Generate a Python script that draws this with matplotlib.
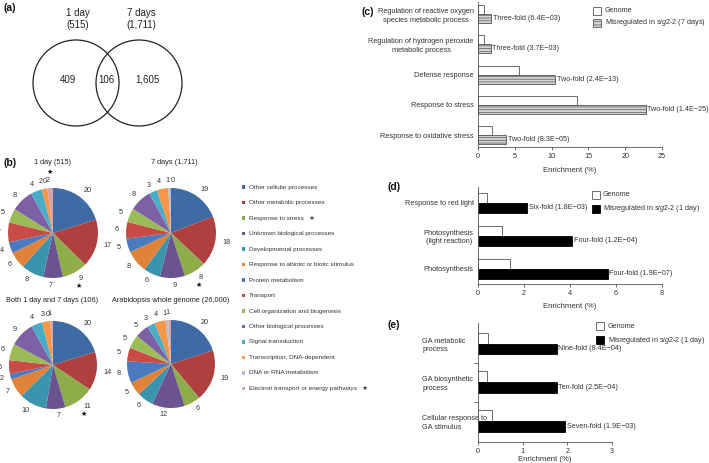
import numpy as np
import matplotlib
matplotlib.use("Agg")
import matplotlib.pyplot as plt
from matplotlib.patches import Circle, Rectangle

plt.rcParams['font.family'] = ['Liberation Sans', 'DejaVu Sans']
plt.rcParams['mathtext.fontset'] = 'custom'
plt.rcParams['mathtext.it'] = 'Liberation Sans:italic'
plt.rcParams['mathtext.rm'] = 'Liberation Sans'
plt.rcParams['hatch.linewidth'] = 0.5

# ---------------- data ----------------
venn_titles = ["1 day\n(515)", "7 days\n(1,711)"]
venn_counts = ["409", "106", "1,605"]

go_categories = ["Other cellular processes", "Other metabolic processes", "Response to stress",
                 "Unknown biological processes", "Developmental processes",
                 "Response to abiotic or biotic stimulus", "Protein metabolism", "Transport",
                 "Cell organization and biogenesis", "Other biological processes",
                 "Signal transduction", "Transcription, DNA-dependent", "DNA or RNA metabolism",
                 "Electron transport or energy pathways"]
starred_categories = [2, 13]
pie_colors = ["#3F6BA4", "#B0403F", "#8EAC4A", "#6B5291", "#3A94AD", "#E08238",
              "#4A7BC0", "#C84B48", "#9BBB59", "#7E60A5", "#4BACC6", "#F79646",
              "#B6BDD8", "#D9A2A4"]
pie_titles = ["1 day (515)", "7 days (1,711)", "Both 1 day and 7 days (106)",
              "Arabidopsis whole genome (26,000)"]
pie_day1 = [20, 17, 9, 7, 8, 6, 4, 7, 5, 8, 4, 2, 0, 2]
pie_day7 = [19, 18, 8, 9, 6, 8, 5, 6, 5, 8, 3, 4, 1, 0]
pie_both = [20, 14, 11, 7, 10, 7, 2, 5, 6, 9, 4, 3, 0, 1]
pie_genome = [20, 19, 6, 12, 6, 5, 8, 5, 5, 5, 3, 4, 1, 1]
pie_stars = [[(2, 'below'), (13, 'above')], [(2, 'below')], [(2, 'below')], []]

c_cats = ["Regulation of reactive oxygen\nspecies metabolic process",
          "Regulation of hydrogen peroxide\nmetabolic process",
          "Defense response", "Response to stress", "Response to oxidative stress"]
c_genome = [0.75, 0.75, 5.6, 13.4, 1.9]
c_sig = [1.8, 1.7, 10.45, 22.8, 3.8]
c_notes = ["Three-fold (6.4E\u221203)", "Three-fold (3.7E\u221203)", "Two-fold (2.4E\u221213)",
           "Two-fold (1.4E\u221225)", "Two-fold (8.3E\u221205)"]
c_ticks = [0, 5, 10, 15, 20, 25]

d_cats = ["Response to red light", "Photosynthesis\n(light reaction)", "Photosynthesis"]
d_genome = [0.38, 1.06, 1.41]
d_sig = [2.15, 4.09, 5.64]
d_notes = ["Six-fold (1.8E\u221203)", "Four-fold (1.2E\u221204)", "Four-fold (1.9E\u221207)"]
d_ticks = [0, 2, 4, 6, 8]

e_cats = ["GA metabolic\nprocess", "GA biosynthetic\nprocess", "Cellular response to\nGA stimulus"]
e_genome = [0.22, 0.2, 0.32]
e_sig = [1.76, 1.76, 1.95]
e_notes = ["Nine-fold (8.4E\u221204)", "Ten-fold (2.5E\u221204)", "Seven-fold (1.9E\u221203)"]
e_ticks = [0, 1, 2, 3]

# ---------------- figure ----------------
W, H = 709, 463
fig = plt.figure(figsize=(W / 100, H / 100), dpi=100)
fig.patch.set_facecolor('white')


def px_axes(x0, y0, x1, y1):
    return fig.add_axes([x0 / W, 1 - y1 / H, (x1 - x0) / W, (y1 - y0) / H])


ov = fig.add_axes([0, 0, 1, 1])
ov.set_xlim(0, W)
ov.set_ylim(H, 0)
ov.axis('off')
ov.set_zorder(10)
ov.patch.set_visible(False)

txt = '#222222'
# panel labels
for lab, (x, y) in zip(["(a)", "(b)", "(c)", "(d)", "(e)"],
                       [(3, 8), (3, 163), (361, 12), (387, 187), (387, 325)]):
    ov.text(x, y, lab, fontsize=7.5, fontweight='bold', va='center', ha='left', color='#111')

# ---------------- (a) Venn ----------------
ov.add_patch(Circle((76, 83), 43, fill=False, lw=0.9, ec='#222'))
ov.add_patch(Circle((139, 83), 43, fill=False, lw=0.9, ec='#222'))
ov.text(78, 19, venn_titles[0], ha='center', va='center', fontsize=7, color=txt, linespacing=1.2)
ov.text(141, 19, venn_titles[1], ha='center', va='center', fontsize=7, color=txt, linespacing=1.2)
ov.text(68, 80, venn_counts[0], ha='center', va='center', fontsize=7, color=txt)
ov.text(106, 80, venn_counts[1], ha='center', va='center', fontsize=7, color=txt)
ov.text(147, 80, venn_counts[2], ha='center', va='center', fontsize=7, color=txt)

# ---------------- (b) pies ----------------
pie_data = [pie_day1, pie_day7, pie_both, pie_genome]
pie_centers = [(53, 233), (171, 233), (53, 365), (171, 364)]
pie_radius = [45, 45, 44, 44]
title_pos = [(53, 163), (174, 163), (52, 300), (171, 300)]
for vals, (cx, cy), r, title, (tx, ty), stars in zip(pie_data, pie_centers, pie_radius,
                                                    pie_titles, title_pos, pie_stars):
    s = 2.5 * r
    ax = px_axes(cx - s / 2, cy - s / 2, cx + s / 2, cy + s / 2)
    wedges, texts = ax.pie(vals, colors=pie_colors, startangle=90, counterclock=False,
                           labels=[str(v) for v in vals], labeldistance=1.16,
                           textprops=dict(fontsize=5.2, color='#333'),
                           wedgeprops=dict(linewidth=0))
    ax.set_xlim(-1.25, 1.25)
    ax.set_ylim(-1.25, 1.25)
    for k, where in stars:
        px, py = texts[k].get_position()
        dy = -6 if where == 'below' else 6
        ax.annotate('\u2605', xy=(px, py), xytext=(0, dy), textcoords='offset points',
                    ha='center', va='center', fontsize=5, color='#111')
    ov.text(tx, ty, title, ha='center', va='center', fontsize=5.3, color=txt)

# legend for (b)
for i, (name, col) in enumerate(zip(go_categories, pie_colors)):
    yy = 187 + 15.5 * i
    ov.add_patch(Rectangle((241.5, yy - 1.8), 3.6, 3.6, color=col, lw=0))
    label = name + ("   \u2605" if i in starred_categories else "")
    ov.text(249, yy, label, ha='left', va='center', fontsize=4.6, color='#333')


# ---------------- bar panels ----------------
def bar_panel(box, cats, genome, sig, notes, ticks, ylim, h, sig_style, left_labels=False,
              label_pad=3, minor=False, xlabelpad=5):
    ax = px_axes(*box)
    ax.patch.set_visible(False)
    y = np.arange(len(cats))
    ax.barh(y - h / 2, genome, height=h, color='white', edgecolor='#555', lw=0.6)
    ax.barh(y + h / 2, sig, height=h, **sig_style)
    for yi, v, note in zip(y, sig, notes):
        ax.annotate(note, xy=(v, yi + h / 2), xytext=(1.2, 0), textcoords='offset points',
                    va='center', ha='left', fontsize=5.2, color='#333')
    ax.set_xlim(ticks[0], ticks[-1])
    ax.set_ylim(*ylim)
    ax.set_xticks(ticks)
    ax.set_xticklabels([str(t) for t in ticks], fontsize=5.2, color='#333')
    ax.set_yticks(y)
    ax.set_yticklabels(cats, fontsize=5.3, color='#333')
    ax.tick_params(axis='x', length=2.5, width=0.6, color='#555', pad=1.5)
    ax.tick_params(axis='y', which='major', length=0, pad=label_pad)
    if minor:
        ax.set_yticks(y[:-1] + 0.5, minor=True)
        ax.tick_params(axis='y', which='minor', length=3, width=0.6, color='#555')
    for lab in ax.get_yticklabels():
        lab.set_linespacing(1.3)
        if left_labels:
            lab.set_ha('left')
            lab.set_multialignment('left')
        else:
            lab.set_multialignment('center')
    for sp in ['top', 'right']:
        ax.spines[sp].set_visible(False)
    for sp in ['left', 'bottom']:
        ax.spines[sp].set_color('#555')
        ax.spines[sp].set_linewidth(0.6)
    ax.set_xlabel("Enrichment (%)", fontsize=5.6, color='#333', labelpad=xlabelpad)
    return ax


hatch_style = dict(color='#d4d4d4', edgecolor='#555', hatch='------', lw=0.6)
black_style = dict(color='black', edgecolor='black', lw=0.6)

bar_panel((478, 2, 662, 147), c_cats, c_genome, c_sig, c_notes, c_ticks,
          (4.39, -0.4), 0.3, hatch_style)
bar_panel((478, 187, 662, 284), d_cats, d_genome, d_sig, d_notes, d_ticks,
          (2.46, -0.48), 0.3, black_style)
bar_panel((478, 323, 612, 442), e_cats, e_genome, e_sig, e_notes, e_ticks,
          (2.54, -0.53), 0.28, black_style, left_labels=True, label_pad=40, minor=True,
          xlabelpad=1.0)

# legends for bar panels
def bar_legend(x, y1, y2, tx, second_label, style):
    ov.add_patch(Rectangle((x, y1 - 4), 8, 8, facecolor='white', edgecolor='#555', lw=0.6))
    ov.add_patch(Rectangle((x, y2 - 4), 8, 8, **style))
    ov.text(tx, y1, "Genome", fontsize=5.2, va='center', ha='left', color='#333')
    ov.text(tx, y2, second_label, fontsize=5.2, va='center', ha='left', color='#333')


bar_legend(593, 11, 23, 605, "Misregulated in $\\mathit{sig2}$-$\\mathit{2}$ (7 days)",
           dict(facecolor='#d4d4d4', edgecolor='#555', hatch='-----', lw=0.6))
bar_legend(592, 195, 209, 603, "Misregulated in $\\mathit{sig2}$-$\\mathit{2}$ (1 day)",
           dict(facecolor='black', edgecolor='black', lw=0.6))
bar_legend(596, 326, 340, 608, "Misregulated in $\\mathit{sig2}$-$\\mathit{2}$ (1 day)",
           dict(facecolor='black', edgecolor='black', lw=0.6))

fig.savefig("out.png", dpi=100, facecolor='white')
